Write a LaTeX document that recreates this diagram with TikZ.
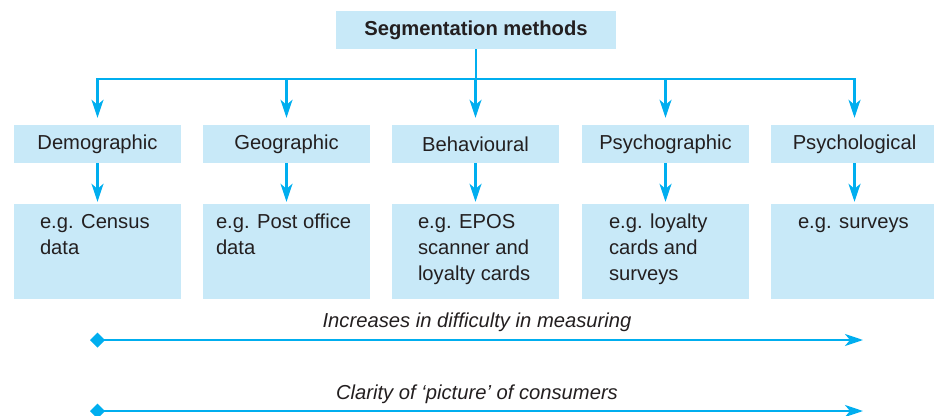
\documentclass[tikz,border=0pt]{standalone}
\usepackage{fontspec}
\setmainfont{Liberation Sans}
\usetikzlibrary{arrows.meta}
\begin{document}
\begin{tikzpicture}[x=1pt, y=-1pt,
  font=\fontsize{20.2}{26}\selectfont,
  topbox/.style={fill=boxfill, text=inkgray, inner sep=0pt, minimum width=280pt, minimum height=38pt},
  kindbox/.style={fill=boxfill, text=inkgray, inner sep=0pt, minimum width=167pt, minimum height=38pt},
  egbox/.style={fill=boxfill, inner sep=0pt, minimum width=167pt, minimum height=95pt},
  egtext/.style={text=inkgray, inner sep=0pt, align=left, execute at begin node=\vphantom{lg}},
  link/.style={linkblue, line width=2.5pt},
  down/.style={link, -{Stealth[length=18pt, width=12pt, inset=5pt]}},
  gauge/.style={link, {Turned Square[length=15pt, width=15pt]}-{Stealth[length=18pt, width=12pt, inset=5pt]}},
  note/.style={text=inkgray, font=\fontsize{20.2}{26}\selectfont\itshape, anchor=base}]
  % Define colors
  \definecolor{boxfill}{HTML}{C8E9F8}
  \definecolor{linkblue}{HTML}{00AEEF}
  \definecolor{inkgray}{HTML}{231F20}

  \useasboundingbox (0,0) rectangle (934,415);

  % Title box
  \node[topbox] (seg) at (476,30) {\bfseries Segmentation methods};

  % Bus line
  \coordinate (busL) at (97.5,79);
  \coordinate (busR) at (854.5,79);
  \draw[link, line cap=rect] (busL) -- (busR);

  % Columns (\dx = inset of the example text)
  \foreach \i/\x/\dx/\kind/\eg in {
      1/97.5/26/Demographic/{e.g. Census\\data},
      2/286.5/13/Geographic/{e.g. Post office\\data},
      3/475.5/26/Behavioural/{e.g. EPOS\\scanner and\\loyalty cards},
      4/665.5/27/Psychographic/{e.g. loyalty\\cards and\\surveys},
      5/854.5/27/Psychological/{e.g. surveys}} {
    \node[kindbox] (kind\i) at (\x,144) {\kind};
    \node[egbox] (eg\i) at (\x,251.5) {};
    \node[egtext, anchor=north west] (egt\i) at ([xshift=\dx pt, yshift=-10pt]eg\i.north west) {\eg};
    \draw[down, shorten >=7pt] (kind\i.north |- busL) -- (kind\i.north);
    \draw[down, shorten >=2pt] (kind\i.south) -- (eg\i.north);
  }

  % Title to bus
  \draw[link] (seg.south) -- (seg.south |- busL);

  % Gauges
  \coordinate (diffL) at (90,340);
  \coordinate (diffR) at (863,340);
  \draw[gauge] (diffL) -- (diffR);
  \node[note] (diff) at (477,327) {Increases in difficulty in measuring};

  \coordinate (clarL) at (90,411);
  \coordinate (clarR) at (863,411);
  \draw[gauge] (clarL) -- (clarR);
  \node[note] (clar) at (477,399) {Clarity of ‘picture’ of consumers};
\end{tikzpicture}
\end{document}
